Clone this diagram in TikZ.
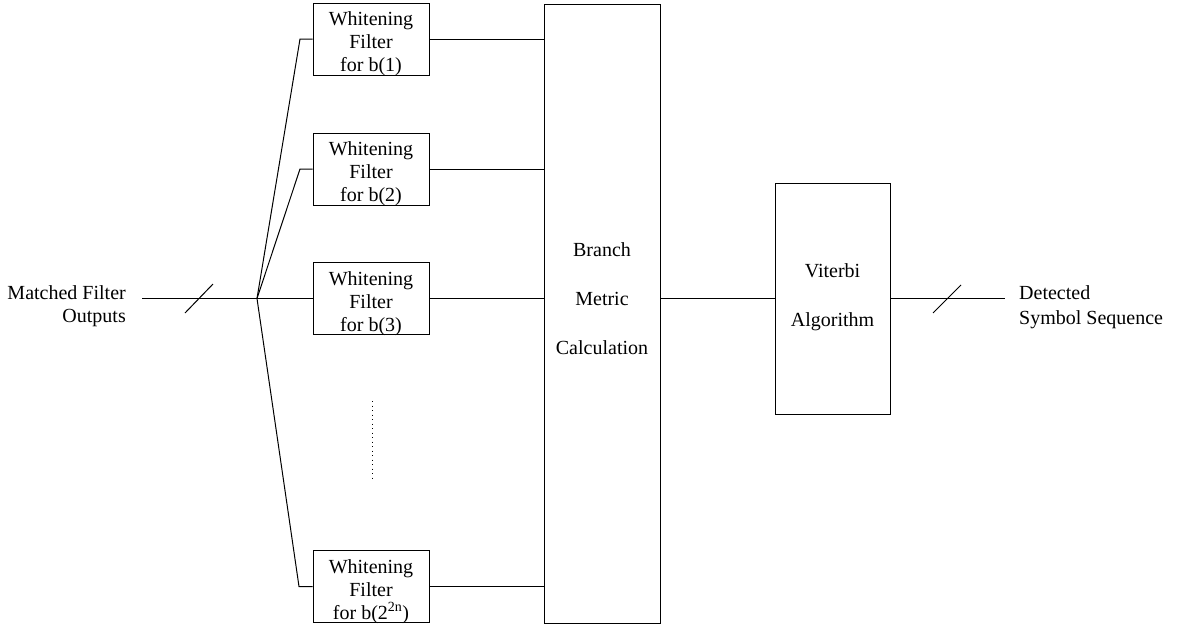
\documentclass[tikz,border=0pt]{standalone}
\usepackage{fontspec}
\setmainfont{Liberation Serif}
\begin{document}
\begin{tikzpicture}[x=1pt,y=-1pt,
  every node/.style={font=\fontsize{20}{23}\selectfont},
  blk/.style={draw, line width=1pt, inner sep=0pt},
  wbox/.style={blk, minimum width=116pt, minimum height=72pt},
  txt/.style={inner sep=0pt, align=center, anchor=north},
  wide/.style={font=\fontsize{20}{49}\selectfont},
  wire/.style={line width=1pt},
  dots/.style={line width=1pt, dash pattern=on 1pt off 3.5pt},
]
\useasboundingbox (0,0) rectangle (1184,627);

% whitening filter bank
\node[wbox] (w1) at (371,39) {};
\node[wbox] (w2) at (371,169) {};
\node[wbox] (w3) at (371,298.5) {};
\node[wbox] (w4) at (371,586.5) {};
\node[txt] (w1t) at (371,11) {Whitening\\Filter\\for b(1)};
\node[txt] (w2t) at (371,141) {Whitening\\Filter\\for b(2)};
\node[txt] (w3t) at (371,271) {Whitening\\Filter\\for b(3)};
\node[txt] (w4t) at (371,559) {Whitening\\Filter\\for b(2\textsuperscript{2n})};

% branch metric and Viterbi blocks
\node[blk, minimum width=116pt, minimum height=619pt] (bm) at (602,313.5) {};
\node[txt, wide] (bmt) at (602,242) {Branch\\Metric\\Calculation};
\node[blk, minimum width=115pt, minimum height=231pt] (vit) at (832.5,298.5) {};
\node[txt, wide] (vitt) at (832.5,263) {Viterbi\\Algorithm};

% input and output labels
\node[inner sep=0pt, align=right, anchor=north east] (mf) at (126,285) {Matched Filter\\Outputs};
\node[inner sep=0pt, align=left, anchor=north west, font=\fontsize{20}{25}\selectfont] (ds) at (1019,285) {Detected\\Symbol Sequence};

% wiring points
\coordinate (in) at (142,298.5);
\coordinate (fan) at (257,298.5);
\coordinate (k1) at (300,39);
\coordinate (k2) at (300,169);
\coordinate (k4) at (299,586.5);
\coordinate (out) at (1005,298.5);

% input bus with its slash
\draw[wire] (in) -- (fan);
\draw[wire] (185,313) -- (213,284);

% fan-out to the filters
\draw[wire] (fan) -- (k1) -- (w1.west);
\draw[wire] (fan) -- (k2) -- (w2.west);
\draw[wire] (fan) -- (w3.west);
\draw[wire] (fan) -- (k4) -- (w4.west);

% filters into the branch metric block
\draw[wire] (w1.east) -- (w1.east -| bm.west);
\draw[wire] (w2.east) -- (w2.east -| bm.west);
\draw[wire] (w3.east) -- (w3.east -| bm.west);
\draw[wire] (w4.east) -- (w4.east -| bm.west);

% omitted filters
\draw[dots] (372,401) -- (372,478);

% branch metric to Viterbi, then output bus
\draw[wire] (vit.west -| bm.east) -- (vit.west);
\draw[wire] (vit.east) -- (out);
\draw[wire] (933,313) -- (961,285);
\end{tikzpicture}
\end{document}
